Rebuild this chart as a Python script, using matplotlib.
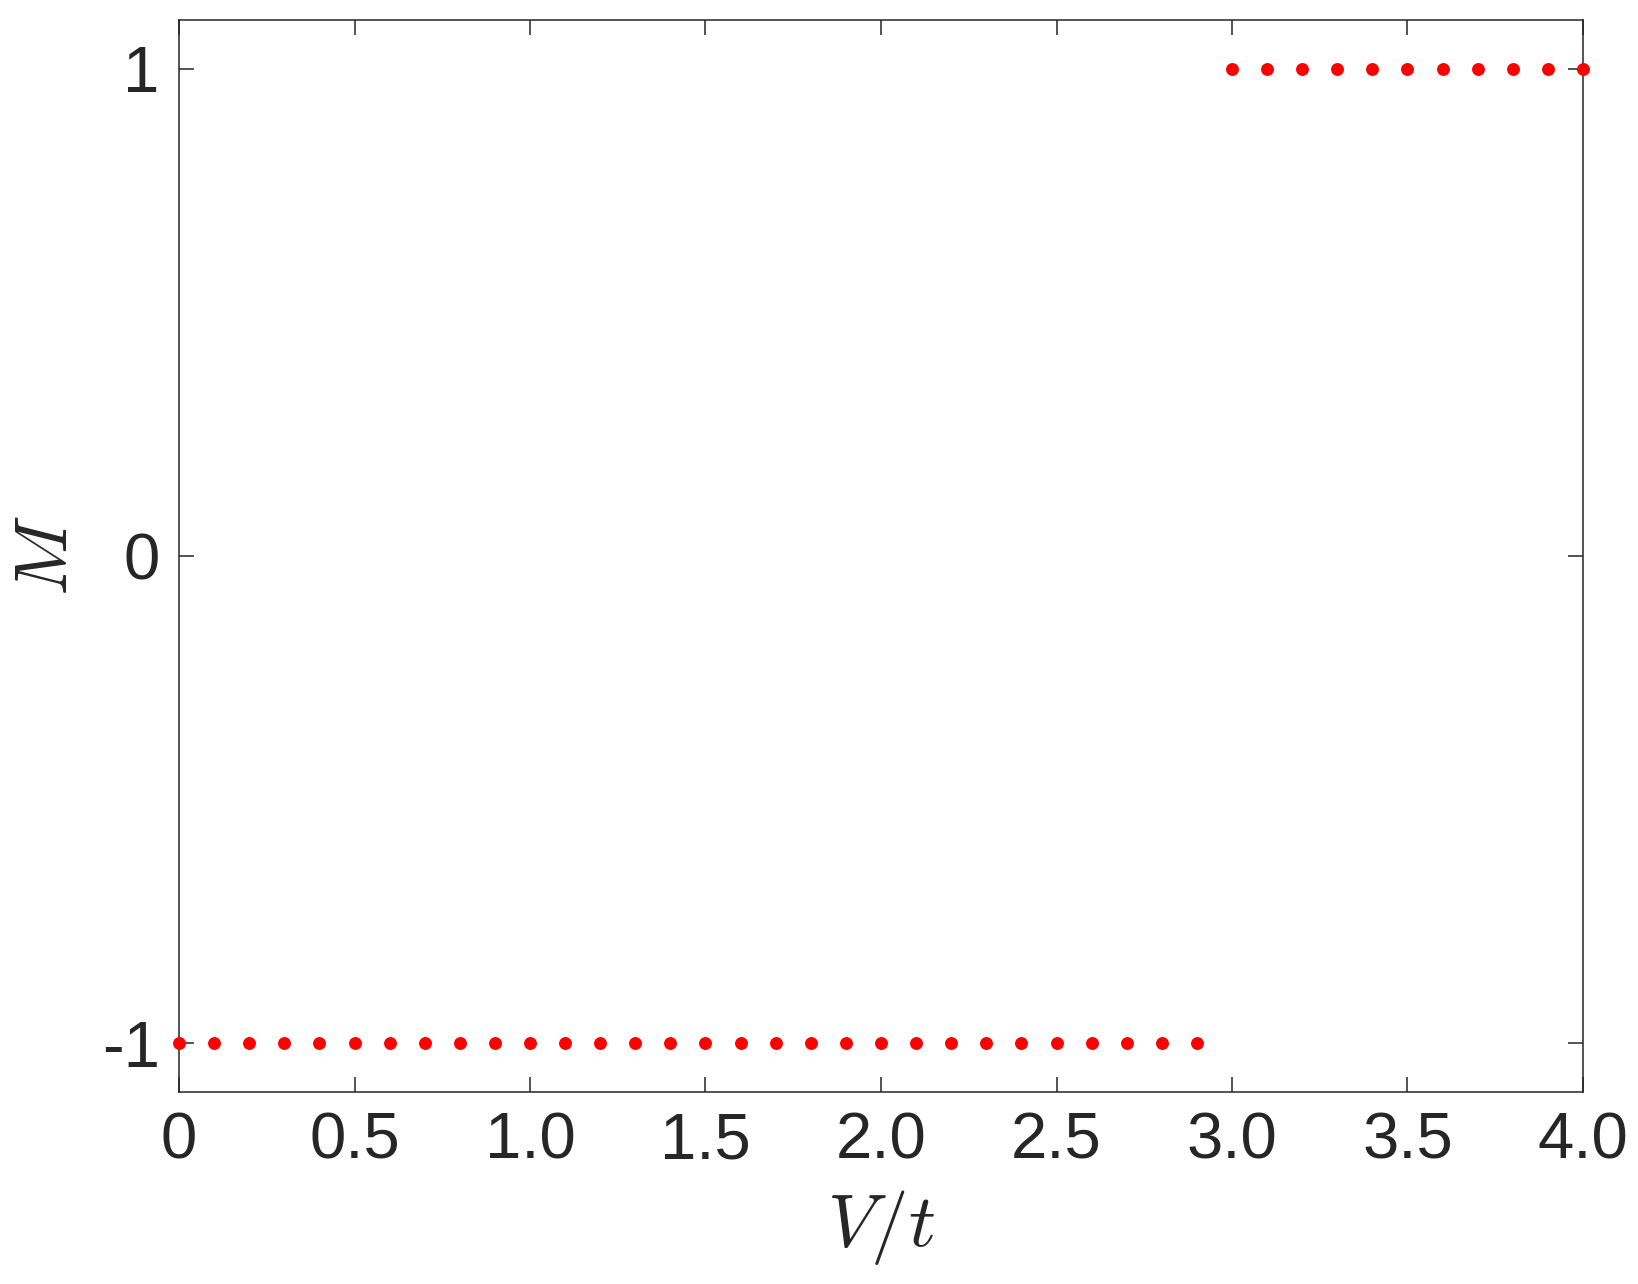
import numpy as np
import matplotlib
matplotlib.use("Agg")
import matplotlib.pyplot as plt

# Data
v_low = [0.0, 0.1, 0.2, 0.3, 0.4, 0.5, 0.6, 0.7, 0.8, 0.9,
         1.0, 1.1, 1.2, 1.3, 1.4, 1.5, 1.6, 1.7, 1.8, 1.9,
         2.0, 2.1, 2.2, 2.3, 2.4, 2.5, 2.6, 2.7, 2.8, 2.9]
m_low = [-1] * len(v_low)
v_high = [3.0, 3.1, 3.2, 3.3, 3.4, 3.5, 3.6, 3.7, 3.8, 3.9, 4.0]
m_high = [1] * len(v_high)

x_ticks = [0, 0.5, 1.0, 1.5, 2.0, 2.5, 3.0, 3.5, 4.0]
x_ticklabels = ["0", "0.5", "1.0", "1.5", "2.0", "2.5", "3.0", "3.5", "4.0"]
y_ticks = [-1, 0, 1]
y_ticklabels = ["-1", "0", "1"]

plt.rcParams['font.family'] = ['Liberation Sans', 'DejaVu Sans']
plt.rcParams['mathtext.fontset'] = 'cm'

text_color = '#262626'

fig = plt.figure(figsize=(16.38, 12.84), dpi=100)
ax = fig.add_axes([179 / 1638, 1 - 1092 / 1284, (1583 - 179) / 1638, (1092 - 20) / 1284])

ax.plot(v_low + v_high, m_low + m_high, linestyle='none', marker='o',
        markersize=9.3, color='red', markeredgewidth=0, clip_on=False, zorder=3)

ax.set_xlim(0, 4)
ax.set_ylim(-1.1, 1.1)
ax.set_xticks(x_ticks)
ax.set_xticklabels(x_ticklabels)
ax.set_yticks(y_ticks)
ax.set_yticklabels(y_ticklabels)

ax.tick_params(direction='in', length=11, width=1.1, colors=text_color,
               labelsize=47, top=True, right=True, pad=14)
for spine in ax.spines.values():
    spine.set_color(text_color)
    spine.set_linewidth(1.1)

ax.set_xlabel(r'$V/t$', fontsize=54, color=text_color, labelpad=12)
ax.set_ylabel(r'$M$', fontsize=54, color=text_color, labelpad=14)

fig.savefig("out.png", dpi=100, facecolor='white')
